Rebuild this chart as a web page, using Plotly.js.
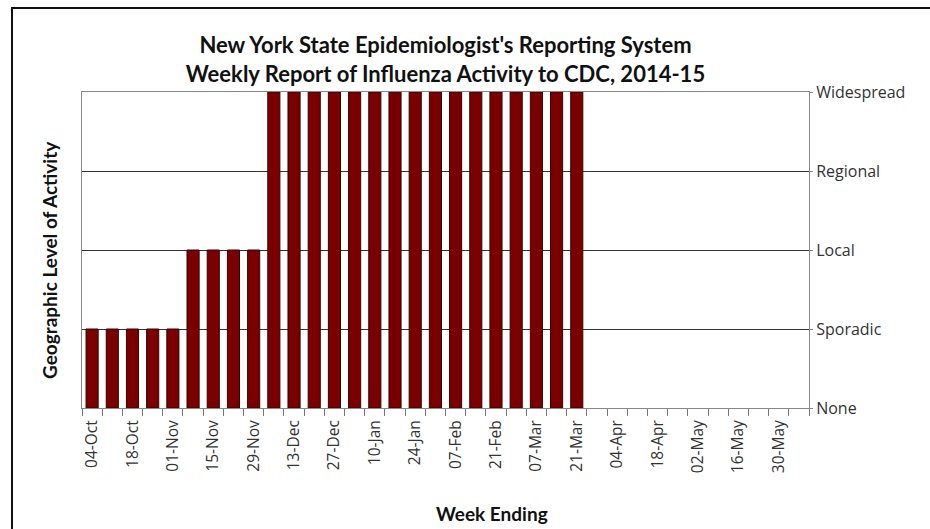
<!DOCTYPE html>
<html>
<head>
<meta charset="utf-8">
<script src="https://cdn.plot.ly/plotly-3.0.1.min.js"></script>
<style>
html, body { margin:0; padding:0; background:#fff; overflow:hidden; }
#chart { width:930px; height:529px; }
#frame { position:absolute; left:11px; top:7px; width:1000px; height:1000px; border:2px solid #111; pointer-events:none; box-sizing:border-box; }
</style>
</head>
<body>
<div id="chart"></div>
<div id="frame"></div>
<script>
const weeks = ["04-Oct","11-Oct","18-Oct","25-Oct","01-Nov","08-Nov","15-Nov","22-Nov","29-Nov",
  "06-Dec","13-Dec","20-Dec","27-Dec","03-Jan","10-Jan","17-Jan","24-Jan","31-Jan",
  "07-Feb","14-Feb","21-Feb","28-Feb","07-Mar","14-Mar","21-Mar","28-Mar","04-Apr",
  "11-Apr","18-Apr","25-Apr","02-May","09-May","16-May","23-May","30-May","06-Jun"];
const weekLabels = ["04-Oct","","18-Oct","","01-Nov","","15-Nov","","29-Nov",
  "","13-Dec","","27-Dec","","10-Jan","","24-Jan","",
  "07-Feb","","21-Feb","","07-Mar","","21-Mar","","04-Apr",
  "","18-Apr","","02-May","","16-May","","30-May",""];
const activity = [1,1,1,1,1,2,2,2,2,
  4,4,4,4,4,4,4,4,4,
  4,4,4,4,4,4,4,null,null,
  null,null,null,null,null,null,null,null,null];
const levelValues = [0,1,2,3,4];
const levelLabels = ["None","Sporadic","Local","Regional","Widespread"];

const titleFont = "Lato, 'Open Sans', sans-serif";
const tickFont = "'Open Sans', 'DejaVu Sans', sans-serif";

Plotly.newPlot("chart", [{
  type: "bar",
  x: weeks,
  y: activity,
  marker: { color: "#7a0000", line: { color: "#3a0000", width: 1 } },
  hoverinfo: "x+y"
}], {
  width: 930, height: 529,
  margin: { l: 82, r: 121, t: 92, b: 121 },
  paper_bgcolor: "#fff", plot_bgcolor: "#fff",
  bargap: 0.4,
  showlegend: false,
  font: { family: tickFont, color: "#333" },
  title: {
    text: "<b>New York State Epidemiologist's Reporting System<br>Weekly Report of Influenza Activity to CDC, 2014-15</b>",
    font: { family: titleFont, size: 22, color: "#111" },
    x: 0.5, xref: "paper", xanchor: "center",
    y: 1 - 53/529, yref: "container", yanchor: "middle"
  },
  xaxis: {
    type: "category",
    categoryorder: "array", categoryarray: weeks,
    tickmode: "array", tickvals: weeks, ticktext: weekLabels,
    tickson: "boundaries",
    ticks: "outside", ticklen: 7, tickcolor: "#777", tickwidth: 1,
    tickangle: -90,
    ticklabelstandoff: 5,
    tickfont: { family: tickFont, size: 15.5, color: "#333" },
    showline: true, linecolor: "#888", linewidth: 1, mirror: true,
    showgrid: false, zeroline: false,
    range: [-0.5, 35.5]
  },
  yaxis: {
    side: "right",
    range: [0, 4],
    tickmode: "array", tickvals: levelValues, ticktext: levelLabels,
    tickfont: { family: tickFont, size: 16, color: "#333" },
    ticks: "outside", ticklen: 3, tickcolor: "#888",
    showgrid: true, gridcolor: "#333", gridwidth: 1,
    showline: true, linecolor: "#888", linewidth: 1, mirror: true,
    zeroline: false
  },
  annotations: [
    {
      text: "<b>Geographic Level of Activity</b>",
      textangle: -90,
      xref: "paper", yref: "paper",
      x: (49 - 82) / 727, y: (408 - 260) / 316,
      xanchor: "center", yanchor: "middle",
      showarrow: false,
      font: { family: titleFont, size: 19, color: "#111" }
    },
    {
      text: "<b>Week Ending</b>",
      xref: "paper", yref: "paper",
      x: (492 - 82) / 727, y: (408 - 513) / 316,
      xanchor: "center", yanchor: "middle",
      showarrow: false,
      font: { family: titleFont, size: 19, color: "#111" }
    }
  ]
}, { displayModeBar: false, staticPlot: true });
</script>
</body>
</html>
